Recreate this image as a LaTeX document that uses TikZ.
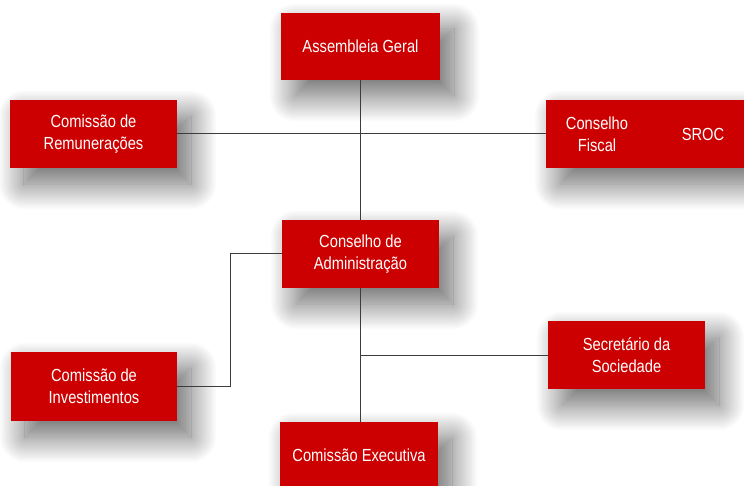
\documentclass[tikz,border=0pt]{standalone}
\usepackage{fontspec}
\setmainfont[FakeStretch=0.84]{Liberation Sans}
\usepackage{tikz}
\usetikzlibrary{shadows.blur}
\usepackage{xcolor}
\definecolor{orgred}{RGB}{204,0,0}
\definecolor{orgline}{RGB}{60,60,60}
\tikzstyle{orgbox} = [blur shadow={shadow xshift=14pt, shadow yshift=-16pt, shadow blur radius=26pt, shadow blur steps=30, shadow opacity=60, fill=black!85}, rectangle, inner sep=0pt, minimum width=158pt, minimum height=68pt, text centered, align=center, text=white, font=\fontsize{17.5}{22}\selectfont, fill=orgred]
\tikzstyle{orgtext} = [inner sep=0pt, align=center, text=white, font=\fontsize{17.5}{22}\selectfont]
\tikzstyle{link} = [orgline, line width=1pt]

\begin{document}
\begin{tikzpicture}[x=1pt, y=-1pt]
\useasboundingbox (0,0) rectangle (744,486);
\clip (0,0) rectangle (744,486);

% Top level
\node[orgbox, minimum width=159pt, minimum height=67pt] (ag) at (360.5,46.5) {Assembleia Geral};

% Committees beside the general assembly
\node[orgbox, minimum width=167pt] (rem) at (93.5,134) {Comissão de\\Remunerações};
\node[orgbox, minimum width=214pt] (fiscal) at (653,134) {};
\node[orgtext] (fiscaltxt) at (597,134) {Conselho\\Fiscal};
\node[orgtext] (sroc) at (703,134) {SROC};

% Board
\node[orgbox, minimum width=157pt] (adm) at (360.5,254) {Conselho de\\Administração};

% Below the board
\node[orgbox, minimum width=166pt, minimum height=69pt] (inv) at (94,386.5) {Comissão de\\Investimentos};
\node[orgbox, minimum width=157pt] (sec) at (626.5,355) {Secretário da\\Sociedade};
\node[orgbox, minimum height=67pt] (exe) at (359,455.5) {Comissão Executiva};

% Connectors
\draw[link] (ag.south) -- (adm.north);
\draw[link] (rem.east) -- (fiscal.west);
\coordinate (invbend) at (230,254);
\draw[link] (adm.west) -- (invbend) |- (inv.east);
\draw[link] (adm.south) -- (adm.south |- exe.north);
\draw[link] (adm.south |- sec.west) -- (sec.west);
\end{tikzpicture}
\end{document}
